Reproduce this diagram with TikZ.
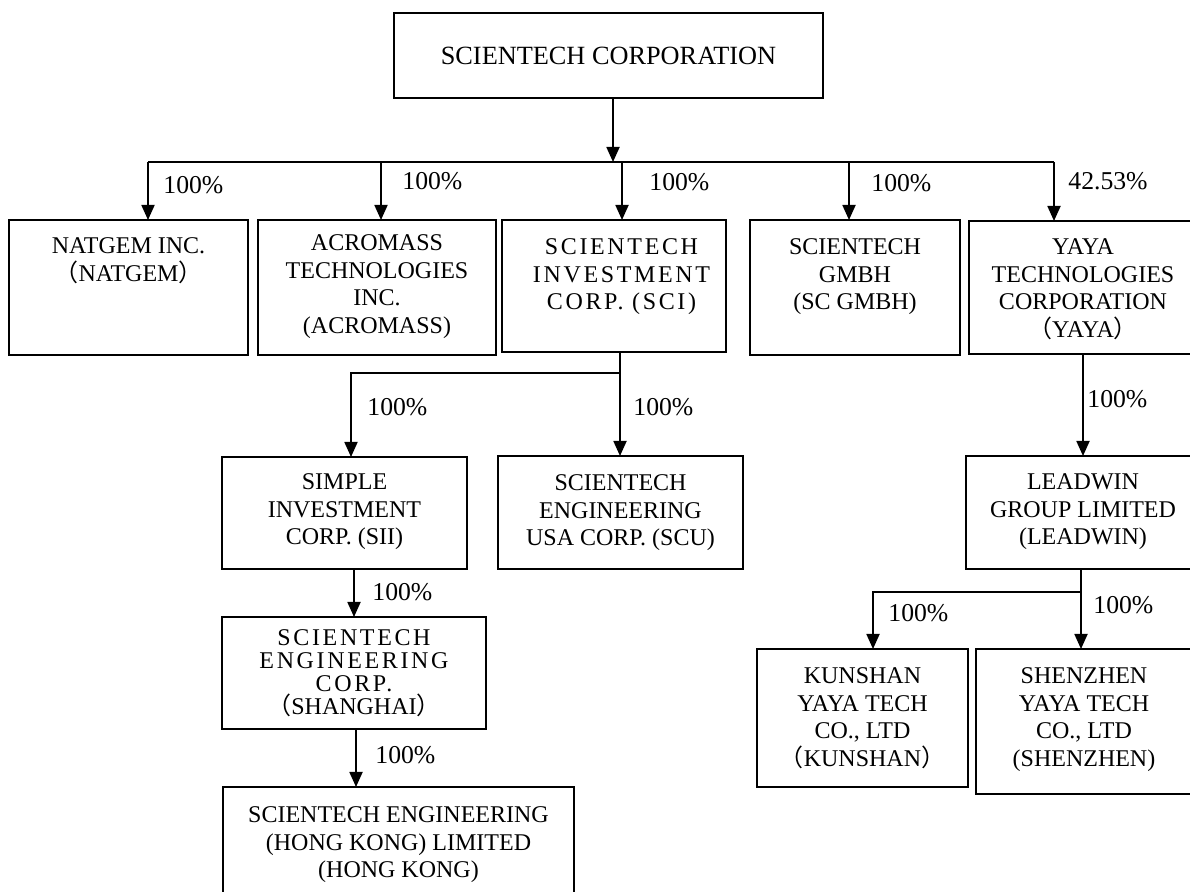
\documentclass[tikz,border=0pt]{standalone}
\usepackage{fontspec}
\setmainfont{Liberation Serif}
\newfontfamily\cjk{Noto Sans CJK SC}
\newfontfamily\spaced[LetterSpace=11]{Liberation Serif}
\usetikzlibrary{arrows.meta,calc}
\newcommand\boxfont{\fontsize{12}{13.75}\selectfont}
\newcommand\lp{\smash{\cjk （}}
\newcommand\rp{\smash{\cjk ）}}
\newcommand\sh{\hspace*{7.5pt}}
\newcommand\bx[7][17]{\node[box] (#2) at (#3,#4) {\parbox[c][\dimexpr(#6pt-#4pt)/2\relax][t]{\dimexpr(#5pt-#3pt)/2\relax}{\centering\boxfont\rule{0pt}{#1pt}#7}};}
\begin{document}
\begin{tikzpicture}[x=0.5pt,y=-0.5pt,
  box/.style={draw,line width=0.9pt,inner sep=0pt,outer sep=0pt,anchor=north west},
  ln/.style={line width=0.9pt},
  arr/.style={ln,-{Triangle[width=6.5pt,length=7.5pt]}},
  lbl/.style={anchor=west,inner sep=0pt,font=\fontsize{12.85}{14}\selectfont}]
\useasboundingbox (0,0) rectangle (1190,892);
\fill[white] (0,0) rectangle (1190,892);
\node[box,anchor=center,minimum width=214.5pt,minimum height=42.5pt,font=\fontsize{13.15}{15}\selectfont] (top) at (608.5,55.5) {SCIENTECH CORPORATION};
\bx{natgem}{9}{220}{248}{355}{NATGEM INC.\\\lp NATGEM\rp}
\bx[15.5]{acro}{258}{220}{496}{355}{ACROMASS\\TECHNOLOGIES\\INC.\\(ACROMASS)}
\bx[17.5]{sci}{502}{220}{726}{352}{\spaced \sh SCIENTECH\\\sh INVESTMENT\\\sh CORP. (SCI)}
\bx[17.5]{gmbh}{750}{220}{960}{355}{SCIENTECH\\GMBH\\(SC GMBH)}
\bx[17]{yaya}{969}{221}{1197}{354}{YAYA\\TECHNOLOGIES\\CORPORATION\\\lp YAYA\rp}
\bx[16.5]{sii}{222}{457}{467}{569}{SIMPLE\\INVESTMENT\\CORP. (SII)}
\bx[17.5]{scu}{498}{456}{743}{569}{SCIENTECH\\ENGINEERING\\USA CORP. (SCU)}
\bx[14.5]{sh}{222}{617}{486}{729}{\fontsize{12}{11.5}\selectfont\spaced SCIENTECH\\ENGINEERING\\CORP.\\\rmfamily\lp SHANGHAI\rp}
\bx[18]{hk}{223}{787}{574}{900}{SCIENTECH ENGINEERING\\(HONG KONG) LIMITED\\(HONG KONG)}
\bx[17]{leadwin}{966}{456}{1200}{569}{LEADWIN\\GROUP LIMITED\\(LEADWIN)}
\bx[17.5]{kunshan}{757}{649}{968}{787}{KUNSHAN\\YAYA TECH\\CO., LTD\\\lp KUNSHAN\rp}
\bx[17.5]{shenzhen}{976}{649}{1192}{794}{SHENZHEN\\YAYA TECH\\CO., LTD\\(SHENZHEN)}
% top bus
\coordinate (busc) at (613,162);
\coordinate (busl) at (148,162);
\coordinate (busr) at (1054,162);
\coordinate (d2) at (381,162);
\coordinate (d3) at (622,162);
\coordinate (d4) at (849,162);
\draw[arr] (top.south -| busc) -- (busc);
\draw[ln] (busl) -- (busr);
\draw[arr] (busl) -- (busl |- natgem.north);
\draw[arr] (d2) -- (d2 |- acro.north);
\draw[arr] (d3) -- (d3 |- sci.north);
\draw[arr] (d4) -- (d4 |- gmbh.north);
\draw[arr] (busr) -- (busr |- yaya.north);
% SCI branch
\coordinate (s1) at (620,373);
\coordinate (s2) at (351,373);
\draw[arr] (sci.south -| s1) -- (s1 |- scu.north);
\draw[arr] (s1) -- (s2) -- (s2 |- sii.north);
\coordinate (c5) at (354,593);
\draw[arr] (sii.south -| c5) -- (c5 |- sh.north);
\coordinate (c6) at (356,758);
\draw[arr] (sh.south -| c6) -- (c6 |- hk.north);
% YAYA branch
\coordinate (c7) at (1083,400);
\draw[arr] (yaya.south -| c7) -- (c7 |- leadwin.north);
\coordinate (l1) at (1081,592);
\coordinate (l2) at (873,592);
\draw[arr] (leadwin.south -| l1) -- (l1 |- shenzhen.north);
\draw[arr] (l1) -- (l2) -- (l2 |- kunshan.north);
% labels
\node[lbl] (p1) at (163,185) {100\%};
\node[lbl] (p2) at (402,181) {100\%};
\node[lbl] (p3) at (649,182) {100\%};
\node[lbl] (p4) at (871,183) {100\%};
\node[lbl] (p5) at (1068,181) {42.53\%};
\node[lbl] (p6) at (367,407) {100\%};
\node[lbl] (p7) at (633,407) {100\%};
\node[lbl] (p8) at (372,592) {100\%};
\node[lbl] (p9) at (375,755) {100\%};
\node[lbl] (p10) at (1087,399) {100\%};
\node[lbl] (p11) at (888,613) {100\%};
\node[lbl] (p12) at (1093,605) {100\%};
\end{tikzpicture}
\end{document}
